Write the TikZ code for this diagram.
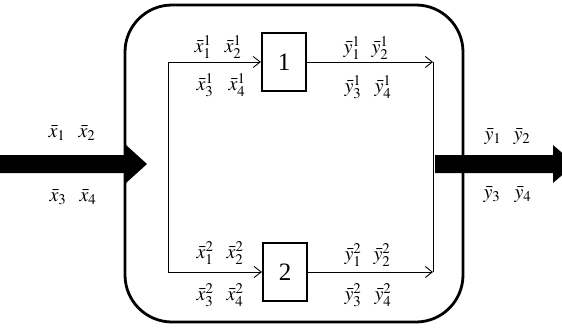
\documentclass[tikz,border=0pt]{standalone}
\usepackage{mathptmx}
\usepackage{fontspec}
\setmainfont{Liberation Serif}
\usetikzlibrary{arrows.meta}
\tikzset{
  lbl/.style={inner sep=0pt, font=\fontsize{20}{24}\selectfont},
  unit/.style={draw, line width=2.2pt, minimum width=44pt, minimum height=58pt,
    inner sep=0pt, font=\fontsize{25}{28}\selectfont},
  wire/.style={line width=0.9pt},
  flow/.style={wire, -{Straight Barb[length=7pt,width=11pt,line width=0.9pt]}},
  plantbox/.style={draw, line width=2.8pt, rounded corners=47pt,
    minimum width=338pt, minimum height=317pt, inner sep=0pt},
  bigarrow/.style={fill=black}
}
\begin{document}
\begin{tikzpicture}[x=1pt,y=-1pt]
\useasboundingbox (0,0) rectangle (562,327);
\clip (0,0) rectangle (562,327);

% outer system boundary
\node[plantbox] (plant) at (294,163.5) {};

% two parallel units
\node[unit] (u1) at (284,62) {1};
\node[unit] (u2) at (285,272) {2};

% splitting and merging junctions
\coordinate (s1) at (168,62);
\coordinate (s2) at (168,272);
\coordinate (m1) at (433,62);
\coordinate (m2) at (433,272);

\draw[wire] (s1) -- (s2);
\draw[wire] (m1) -- (m2);
\draw[flow] (s1) -- (u1.west);
\draw[flow] (s2) -- (u2.west);
\draw[flow] (u1.east) -- (m1);
\draw[flow] (u2.east) -- (m2);

% thick feed and product streams
\fill[bigarrow] (-2,155) -- (126,155) -- (126,145) -- (147,164)
  -- (126,183) -- (126,173) -- (-2,173) -- cycle;
\fill[bigarrow] (435,155) -- (553,155) -- (553,145) -- (575,164)
  -- (553,183) -- (553,173) -- (435,173) -- cycle;

% feed labels
\node[lbl] (fx1) at (57,133) {$\bar{x}_1$};
\node[lbl] (fx2) at (87,133) {$\bar{x}_2$};
\node[lbl] (fx3) at (58,197) {$\bar{x}_3$};
\node[lbl] (fx4) at (88,197) {$\bar{x}_4$};

% product labels
\node[lbl] (py1) at (493,137) {$\bar{y}_1$};
\node[lbl] (py2) at (522,137) {$\bar{y}_2$};
\node[lbl] (py3) at (492,195) {$\bar{y}_3$};
\node[lbl] (py4) at (523,195) {$\bar{y}_4$};

% unit 1 labels
\node[lbl] (ax1) at (203,47) {$\bar{x}^1_1$};
\node[lbl] (ax2) at (233,47) {$\bar{x}^1_2$};
\node[lbl] (ax3) at (205,85) {$\bar{x}^1_3$};
\node[lbl] (ax4) at (237,85) {$\bar{x}^1_4$};
\node[lbl] (ay1) at (352,48) {$\bar{y}^1_1$};
\node[lbl] (ay2) at (380,48) {$\bar{y}^1_2$};
\node[lbl] (ay3) at (353,87) {$\bar{y}^1_3$};
\node[lbl] (ay4) at (383,87) {$\bar{y}^1_4$};

% unit 2 labels
\node[lbl] (bx1) at (205,253) {$\bar{x}^2_1$};
\node[lbl] (bx2) at (235,253) {$\bar{x}^2_2$};
\node[lbl] (bx3) at (205,295) {$\bar{x}^2_3$};
\node[lbl] (bx4) at (235,295) {$\bar{x}^2_4$};
\node[lbl] (by1) at (353,255) {$\bar{y}^2_1$};
\node[lbl] (by2) at (382,255) {$\bar{y}^2_2$};
\node[lbl] (by3) at (353,295) {$\bar{y}^2_3$};
\node[lbl] (by4) at (383,295) {$\bar{y}^2_4$};
\end{tikzpicture}
\end{document}
